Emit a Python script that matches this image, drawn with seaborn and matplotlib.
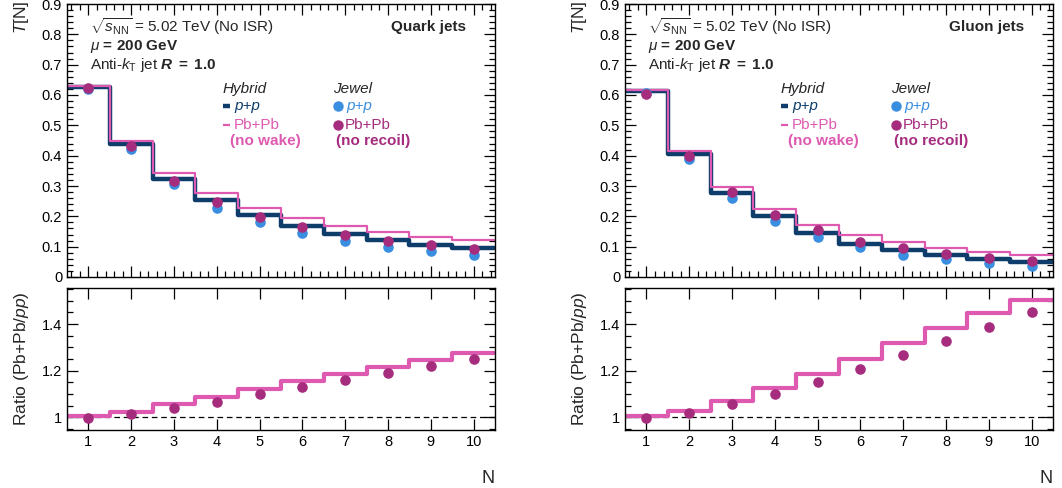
import numpy as np
import pandas as pd
import matplotlib
matplotlib.use("Agg")
import matplotlib.pyplot as plt
from matplotlib.ticker import MultipleLocator, FixedLocator
import seaborn as sns

# ---------------- data ----------------
N = [1, 2, 3, 4, 5, 6, 7, 8, 9, 10]

# Quark jets
q_hyb_pp   = [0.626, 0.437, 0.323, 0.253, 0.203, 0.168, 0.142, 0.121, 0.106, 0.097]
q_hyb_pbpb = [0.630, 0.448, 0.343, 0.276, 0.228, 0.194, 0.169, 0.149, 0.133, 0.122]
q_jew_pp   = [0.620, 0.422, 0.306, 0.229, 0.180, 0.144, 0.119, 0.099, 0.085, 0.074]
q_jew_pbpb = [0.622, 0.431, 0.318, 0.247, 0.198, 0.164, 0.139, 0.119, 0.104, 0.093]
q_hyb_ratio = [1.003, 1.023, 1.056, 1.087, 1.121, 1.154, 1.184, 1.216, 1.246, 1.274]
q_jew_ratio = [0.997, 1.014, 1.039, 1.067, 1.099, 1.129, 1.160, 1.191, 1.220, 1.250]

# Gluon jets
g_hyb_pp   = [0.612, 0.404, 0.277, 0.201, 0.146, 0.110, 0.089, 0.072, 0.060, 0.050]
g_hyb_pbpb = [0.617, 0.414, 0.296, 0.224, 0.173, 0.138, 0.116, 0.097, 0.084, 0.074]
g_jew_pp   = [0.605, 0.389, 0.261, 0.183, 0.131, 0.098, 0.074, 0.058, 0.045, 0.037]
g_jew_pbpb = [0.604, 0.400, 0.279, 0.203, 0.154, 0.117, 0.094, 0.075, 0.061, 0.053]
g_hyb_ratio = [1.003, 1.027, 1.071, 1.127, 1.184, 1.251, 1.317, 1.384, 1.447, 1.503]
g_jew_ratio = [0.997, 1.019, 1.056, 1.100, 1.151, 1.207, 1.266, 1.326, 1.389, 1.451]

panel_titles = ["Quark jets", "Gluon jets"]

# ---------------- style ----------------
sns.set_theme(style="ticks")
plt.rcParams["font.family"] = ["Liberation Sans", "DejaVu Sans"]
plt.rcParams.update({
    "mathtext.fontset": "custom",
    "mathtext.rm": "Liberation Sans",
    "mathtext.it": "Liberation Sans:italic",
    "mathtext.bf": "Liberation Sans:bold",
    "mathtext.sf": "Liberation Sans",
})
try:
    plt.rcParams["mathtext.bfit"] = "Liberation Sans:italic:bold"
    HAS_BFIT = True
except KeyError:
    HAS_BFIT = False

C_DARK = "#0f3d6b"
C_PINK = "#de5ab0"
C_BLUE = "#3a8ee0"
C_PURP = "#a62c7e"

W, H = 1062, 488
fig = plt.figure(figsize=(W / 100, H / 100), dpi=100)

def fr(x0, x1, ytop, ybot):
    return [x0 / W, 1 - ybot / H, (x1 - x0) / W, (ybot - ytop) / H]

panels = [
    (67, q_hyb_pp, q_hyb_pbpb, q_jew_pp, q_jew_pbpb, q_hyb_ratio, q_jew_ratio, panel_titles[0]),
    (625, g_hyb_pp, g_hyb_pbpb, g_jew_pp, g_jew_pbpb, g_hyb_ratio, g_jew_ratio, panel_titles[1]),
]

TICK_FS = 10.5
TXT_FS = 11

def style_axes(ax):
    for s in ax.spines.values():
        s.set_visible(True)
        s.set_color("black")
        s.set_linewidth(1.0)
    ax.tick_params(which="both", direction="in", top=True, right=True,
                   colors="black", labelsize=TICK_FS, width=0.9)
    ax.tick_params(which="major", length=8)
    ax.tick_params(which="minor", length=4)
    ax.grid(False)
    ax.set_facecolor("white")

for (x0, hpp, hpb, jpp, jpb, hr, jr, title) in panels:
    ax = fig.add_axes(fr(x0, x0 + 428, 4, 277))
    axr = fig.add_axes(fr(x0, x0 + 428, 288, 430))

    df = pd.DataFrame({"N": N, "hpp": hpp, "hpb": hpb, "jpp": jpp, "jpb": jpb,
                       "hr": hr, "jr": jr})

    # ---- top panel ----
    sns.histplot(data=df, x="N", weights="hpp", discrete=True, element="step",
                 fill=False, color=C_DARK, linewidth=3.2, ax=ax)
    sns.histplot(data=df, x="N", weights="hpb", discrete=True, element="step",
                 fill=False, color=C_PINK, linewidth=1.6, ax=ax)
    sns.scatterplot(data=df, x="N", y="jpp", color=C_BLUE, s=58, linewidth=0,
                    ax=ax, zorder=5)
    sns.scatterplot(data=df, x="N", y="jpb", color=C_PURP, s=58, linewidth=0,
                    ax=ax, zorder=6)
    ax.set_xlim(0.5, 10.5)
    ax.set_ylim(0, 0.9)
    ax.xaxis.set_major_locator(MultipleLocator(1))
    ax.xaxis.set_minor_locator(MultipleLocator(0.2))
    ax.yaxis.set_major_locator(MultipleLocator(0.1))
    ax.yaxis.set_minor_locator(MultipleLocator(0.02))
    style_axes(ax)
    ax.set_xticklabels([])
    ax.set_xlabel("")
    ax.yaxis.set_major_formatter(matplotlib.ticker.FuncFormatter(
        lambda v, p: "0" if abs(v) < 1e-9 else f"{v:.1f}"))
    ax.set_ylabel("$T$[N]", fontsize=12.5, loc="top")
    ax.yaxis.set_label_coords(-0.085, 1.012)

    # header texts
    ax.text(0.054, 0.916, r"$\sqrt{s_{\mathrm{NN}}}$ = 5.02 TeV (No ISR)",
            transform=ax.transAxes, fontsize=TXT_FS, va="center", ha="left")
    ax.text(0.054, 0.846, r"$\mu$ = 200 GeV", fontweight="bold",
            transform=ax.transAxes, fontsize=TXT_FS, va="center", ha="left")
    if HAS_BFIT:
        rtxt = r"Anti-$k_{\mathrm{T}}$ jet $\mathbfit{R}$ $\mathbf{=}$ $\mathbf{1.0}$"
    else:
        rtxt = r"Anti-$k_{\mathrm{T}}$ jet $\mathbf{R}$ $\mathbf{=}$ $\mathbf{1.0}$"
    ax.text(0.054, 0.777, rtxt, transform=ax.transAxes, fontsize=TXT_FS,
            va="center", ha="left")
    ax.text(0.932, 0.916, title, transform=ax.transAxes, fontsize=TXT_FS,
            fontweight="bold", va="center", ha="right")

    # legend (manual)
    ax.text(0.364, 0.689, "Hybrid", style="italic", transform=ax.transAxes,
            fontsize=TXT_FS, va="center", ha="left")
    ax.text(0.621, 0.689, "Jewel", style="italic", transform=ax.transAxes,
            fontsize=TXT_FS, va="center", ha="left")
    ax.plot([0.364, 0.382], [0.626, 0.626], color=C_DARK, lw=3.2,
            transform=ax.transAxes, solid_capstyle="butt")
    ax.text(0.392, 0.626, "p+p", style="italic", color=C_DARK,
            transform=ax.transAxes, fontsize=TXT_FS, va="center", ha="left")
    ax.plot([0.364, 0.382], [0.557, 0.557], color=C_PINK, lw=1.6,
            transform=ax.transAxes, solid_capstyle="butt")
    ax.text(0.390, 0.557, "Pb+Pb", color=C_PINK,
            transform=ax.transAxes, fontsize=TXT_FS, va="center", ha="left")
    ax.text(0.381, 0.498, "(no wake)", color=C_PINK, fontweight="bold",
            transform=ax.transAxes, fontsize=TXT_FS, va="center", ha="left")
    ax.plot([0.634], [0.626], "o", color=C_BLUE, ms=7.5, mew=0,
            transform=ax.transAxes)
    ax.text(0.652, 0.626, "p+p", style="italic", color=C_BLUE,
            transform=ax.transAxes, fontsize=TXT_FS, va="center", ha="left")
    ax.plot([0.634], [0.557], "o", color=C_PURP, ms=7.5, mew=0,
            transform=ax.transAxes)
    ax.text(0.650, 0.557, "Pb+Pb", color=C_PURP,
            transform=ax.transAxes, fontsize=TXT_FS, va="center", ha="left")
    ax.text(0.629, 0.498, "(no recoil)", color=C_PURP, fontweight="bold",
            transform=ax.transAxes, fontsize=TXT_FS, va="center", ha="left")

    # ---- ratio panel ----
    axr.axhline(1.0, color="black", lw=0.9, ls=(0, (4.5, 3)), zorder=1)
    sns.histplot(data=df, x="N", weights="hr", discrete=True, element="step",
                 fill=False, color=C_PINK, linewidth=3.0, ax=axr)
    sns.scatterplot(data=df, x="N", y="jr", color=C_PURP, s=58, linewidth=0,
                    ax=axr, zorder=6)
    axr.set_xlim(0.5, 10.5)
    axr.set_ylim(0.945, 1.555)
    axr.xaxis.set_major_locator(MultipleLocator(1))
    axr.xaxis.set_minor_locator(matplotlib.ticker.NullLocator())
    axr.yaxis.set_major_locator(FixedLocator([1.0, 1.2, 1.4]))
    axr.yaxis.set_minor_locator(MultipleLocator(0.05))
    style_axes(axr)
    axr.yaxis.set_major_formatter(matplotlib.ticker.FuncFormatter(
        lambda v, p: "1" if abs(v - 1) < 1e-9 else f"{v:.1f}"))
    axr.set_ylabel("Ratio (Pb+Pb/$pp$)", fontsize=12.5)
    axr.yaxis.set_label_coords(-0.085, 0.5)
    axr.set_xlabel("N", fontsize=13, loc="right")
    axr.xaxis.set_label_coords(1.0, -0.28)

fig.savefig("out.png", dpi=100, facecolor="white")
